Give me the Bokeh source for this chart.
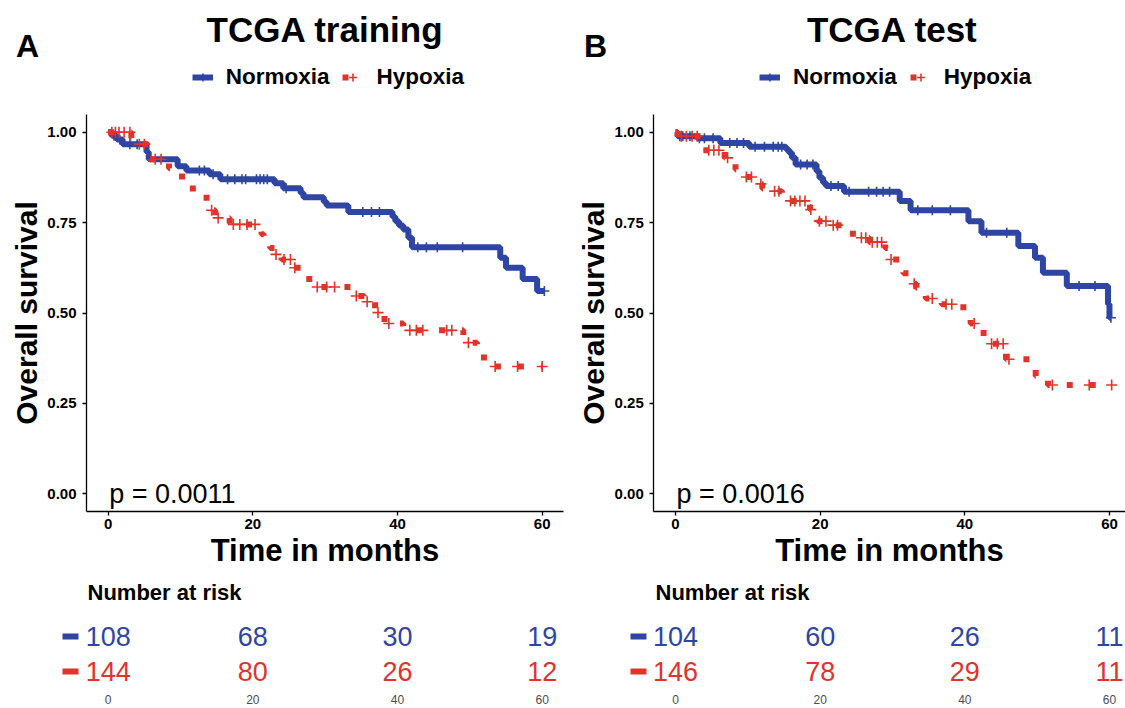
from bokeh.plotting import figure
from bokeh.layouts import row
from bokeh.models import Range1d, Legend, LegendItem, LinearAxis, FixedTicker
from bokeh.core.properties import value
from bokeh.embed import file_html
from bokeh.resources import INLINE

BLUE = "#2f45a3"
RED = "#e2332a"
FONT = "Liberation Sans"

# ---------------- data: TCGA training ----------------
train_norm_t = [0, 0.5, 1.2, 2.0, 5.3, 5.6, 9.6, 10.8, 14.0, 15.5, 23.0, 24.2, 26.6, 27.0,
                29.8, 30.2, 33.2, 39.3, 39.7, 40.2, 40.8, 41.5, 42.0, 54.2, 55.0, 57.3, 59.3]
train_norm_s = [1.0, 0.99, 0.98, 0.967, 0.945, 0.925, 0.906, 0.894, 0.884, 0.87, 0.859, 0.845, 0.832, 0.82,
                0.808, 0.797, 0.779, 0.766, 0.754, 0.742, 0.731, 0.708, 0.682, 0.653, 0.625, 0.594, 0.561]
train_norm_end = 60.3
train_norm_cens = [0.8, 1.6, 3.0, 4.0, 12.6, 13.3, 14.5, 16.5, 17.5, 18.5, 19.0, 20.5, 21.0, 21.5, 22.0,
                   24.6, 35.2, 36.4, 37.5, 42.8, 44.0, 45.5, 49.0, 60.3]

train_hyp_t = [0, 3.2, 3.6, 5.5, 5.8, 8.4, 10.2, 11.7, 13.6, 14.0, 14.8, 16.8, 21.2, 21.5, 22.4, 23.0,
               24.0, 25.5, 26.8, 27.8, 33.7, 35.4, 36.9, 38.2, 40.8, 49.1, 49.6, 51.0, 52.8]
train_hyp_s = [1.0, 0.984, 0.967, 0.945, 0.925, 0.9, 0.865, 0.832, 0.802, 0.784, 0.763, 0.745, 0.718, 0.696,
               0.68, 0.662, 0.648, 0.625, 0.607, 0.572, 0.547, 0.531, 0.501, 0.471, 0.452, 0.427, 0.418,
               0.377, 0.352]
train_hyp_end = 60.0
train_hyp_cens = [0.5, 1.0, 1.5, 2.2, 3.0, 4.3, 5.0, 6.5, 7.3, 14.3, 15.2, 17.3, 18.2, 19.2, 20.3, 23.2,
                  24.3, 25.2, 25.8, 28.9, 30.2, 31.3, 34.3, 35.8, 37.3, 38.8, 41.7, 42.6, 43.5, 46.8,
                  47.5, 49.8, 53.5, 56.6, 60.0]

# ---------------- data: TCGA test ----------------
test_norm_t = [0, 0.3, 3.0, 6.2, 10.2, 15.3, 15.7, 16.1, 16.6, 19.5, 19.9, 20.4, 20.8, 23.3, 31.0, 32.5,
               40.5, 42.3, 47.4, 49.7, 50.8, 54.1, 59.8, 60.0]
test_norm_s = [1.0, 0.989, 0.983, 0.97, 0.96, 0.952, 0.943, 0.929, 0.911, 0.892, 0.874, 0.86, 0.851, 0.835,
               0.81, 0.784, 0.754, 0.722, 0.685, 0.653, 0.611, 0.575, 0.524, 0.487]
test_norm_end = 60.2
test_norm_cens = [0.6, 1.0, 2.0, 3.3, 4.0, 5.2, 7.5, 8.5, 9.4, 11.0, 12.3, 13.5, 14.2, 14.7, 17.3, 18.2,
                  19.0, 21.5, 22.5, 24.0, 26.7, 27.8, 28.7, 29.6, 33.5, 35.5, 38.0, 43.0, 45.8, 55.8,
                  58.0, 60.2]

test_hyp_t = [0, 0.3, 3.5, 6.8, 8.3, 9.0, 11.3, 12.0, 13.2, 14.7, 15.6, 18.6, 19.2, 19.7, 21.2, 23.5,
              25.3, 26.8, 29.0, 29.4, 29.6, 31.1, 31.5, 32.6, 33.3, 34.6, 36.8, 39.8, 40.8, 42.6, 43.1,
              45.7, 49.8, 51.5]
test_hyp_s = [1.0, 0.989, 0.95, 0.929, 0.897, 0.876, 0.857, 0.844, 0.837, 0.823, 0.81, 0.786, 0.768, 0.754,
              0.743, 0.719, 0.708, 0.696, 0.68, 0.662, 0.648, 0.625, 0.61, 0.581, 0.57, 0.54, 0.524, 0.506,
              0.471, 0.436, 0.415, 0.372, 0.326, 0.301]
test_hyp_end = 60.4
test_hyp_cens = [0.8, 1.5, 2.3, 3.0, 4.6, 5.3, 6.0, 7.2, 9.8, 10.5, 11.8, 13.7, 14.3, 15.9, 16.5, 17.2,
                 17.9, 18.7, 19.9, 20.8, 21.8, 22.4, 25.7, 26.3, 27.2, 27.9, 28.5, 29.8, 33.0, 35.5, 37.4,
                 38.2, 41.3, 43.7, 44.5, 45.3, 46.1, 52.1, 57.2, 60.3]

# ---------------- number at risk ----------------
risk_times = [0, 20, 40, 60]
risk_tick_labels = ["0", "20", "40", "60"]
train_risk_norm = [108, 68, 30, 19]
train_risk_hyp = [144, 80, 26, 12]
test_risk_norm = [104, 60, 26, 11]
test_risk_hyp = [146, 78, 29, 11]

groups = ["Normoxia", "Hypoxia"]
y_ticks = [0, 0.25, 0.5, 0.75, 1.0]
y_tick_labels = ["0.00", "0.25", "0.50", "0.75", "1.00"]

# ---------------- layout constants (pixels) ----------------
H = 708
PPM = 7.233       # pixels per month
SPP = 361.6       # pixels per unit survival
Y1_PX = 131.7     # window y of survival 1.0


def surv_at(ts, ss, t):
    v = ss[0]
    for ti, si in zip(ts, ss):
        if ti <= t:
            v = si
    return v


def km_panel(letter, title, pval, nt, ns, nend, ncens, ht, hs, hend, hcens, rn_vals, rh_vals,
             col_w, zero_px, x_axis_end):
    # helpers converting layout pixels of this panel into its data coordinates
    def X(px):
        return (px - zero_px) / PPM

    def Y(wy):
        return 1 - (wy - Y1_PX) / SPP

    p = figure(frame_width=col_w, frame_height=H, x_range=Range1d(X(0), X(col_w)),
               y_range=Range1d(Y(H), Y(0)), x_axis_type=None, y_axis_type=None,
               output_backend="svg", toolbar_location=None,
               min_border_left=0, min_border_right=0, min_border_top=0, min_border_bottom=0)
    p.outline_line_color = None
    p.grid.visible = False

    # ---- axes, crossing at the lower-left corner of the data area ----
    yax = LinearAxis(fixed_location=-3, bounds=(-0.05, 1.05), ticker=FixedTicker(ticks=y_ticks),
                     major_label_overrides=dict(zip(y_ticks, y_tick_labels)),
                     axis_label="Overall survival")
    xax = LinearAxis(fixed_location=-0.05, bounds=(-3, x_axis_end), ticker=FixedTicker(ticks=risk_times),
                     axis_label="Time in months")
    for ax in (xax, yax):
        ax.axis_line_width = 1.3
        ax.axis_line_color = "black"
        ax.major_tick_line_color = "black"
        ax.major_tick_line_width = 1.3
        ax.major_tick_out = 4
        ax.major_tick_in = 0
        ax.minor_tick_line_color = None
        ax.major_label_text_font = FONT
        ax.major_label_text_font_size = "15px"
        ax.major_label_text_font_style = "bold"
        ax.major_label_text_color = "black"
        ax.axis_label_text_font = FONT
        ax.axis_label_text_font_style = "bold"
        ax.axis_label_text_color = "black"
    xax.axis_label_text_font_size = "31px"
    yax.axis_label_text_font_size = "30px"
    xax.major_label_standoff = 3
    xax.axis_label_standoff = 1
    yax.major_label_standoff = 6
    yax.axis_label_standoff = 1
    p.add_layout(yax, "left")
    p.add_layout(xax, "below")

    # ---- survival curves ----
    rn = p.step(x=nt + [nend], y=ns + [ns[-1]], mode="after", line_color=BLUE, line_width=6)
    cn = p.scatter(x=ncens, y=[surv_at(nt, ns, t) for t in ncens], marker="cross", size=10,
                   line_color=BLUE, line_width=1.6)
    rh = p.step(x=ht + [hend], y=hs + [hs[-1]], mode="after", line_color=RED, line_width=6,
                line_dash="6 17")
    ch = p.scatter(x=hcens, y=[surv_at(ht, hs, t) for t in hcens], marker="cross", size=11,
                   line_color=RED, line_width=1.6)

    p.text(x=[0], y=[0], text=[pval], text_font=value(FONT), text_font_size="27px",
           text_baseline="middle", text_align="left", text_color="black", x_offset=1)

    # ---- header: letter, title, legend ----
    p.text(x=[X(27)], y=[Y(45)], text=[letter], text_font=value(FONT), text_font_size="32px",
           text_font_style="bold", text_align="center", text_baseline="middle", text_color="black")
    p.text(x=[X(zero_px + 217)], y=[Y(29)], text=[title], text_font=value(FONT), text_font_size="35px",
           text_font_style="bold", text_align="center", text_baseline="middle", text_color="black")

    legend = Legend(items=[LegendItem(label=groups[0], renderers=[rn, cn]),
                           LegendItem(label=groups[1], renderers=[rh, ch])],
                    orientation="horizontal", location=(zero_px + 84, H - 90),
                    border_line_color=None, background_fill_alpha=0,
                    label_text_font=FONT, label_text_font_size="22.5px", label_text_font_style="bold",
                    label_text_color="black",
                    glyph_width=21, glyph_height=20, label_standoff=13, spacing=13,
                    padding=5, margin=0)
    p.add_layout(legend, "center")

    # ---- number at risk table ----
    p.text(x=[X(87)], y=[Y(592)], text=["Number at risk"], text_font=value(FONT), text_font_size="22px",
           text_font_style="bold", text_align="left", text_baseline="middle", text_color="black")
    for vals, wy, col in ((rn_vals, 636, BLUE), (rh_vals, 671, RED)):
        p.segment(x0=[X(62)], y0=[Y(wy)], x1=[X(78)], y1=[Y(wy)], line_color=col, line_width=6)
        p.text(x=risk_times, y=[Y(wy)] * len(risk_times), text=[str(v) for v in vals],
               text_font=value(FONT), text_font_size="27px", text_baseline="middle",
               text_align="center", text_color=col)
    p.text(x=risk_times, y=[Y(699)] * len(risk_times), text=risk_tick_labels, text_font=value(FONT),
           text_font_size="12px", text_baseline="middle", text_align="center", text_color="#4d4d4d")
    return p


COL_A = 568
COL_B = 1125 - COL_A

pA = km_panel("A", "TCGA training", "p = 0.0011", train_norm_t, train_norm_s, train_norm_end,
              train_norm_cens, train_hyp_t, train_hyp_s, train_hyp_end, train_hyp_cens,
              train_risk_norm, train_risk_hyp, COL_A, 107.7, 63.0)
pB = km_panel("B", "TCGA test", "p = 0.0016", test_norm_t, test_norm_s, test_norm_end,
              test_norm_cens, test_hyp_t, test_hyp_s, test_hyp_end, test_hyp_cens,
              test_risk_norm, test_risk_hyp, COL_B, 107.0, (COL_B - 107.0) / PPM)

layout = row(pA, pB, spacing=0)
open("out.html", "w").write(file_html(layout, INLINE))
